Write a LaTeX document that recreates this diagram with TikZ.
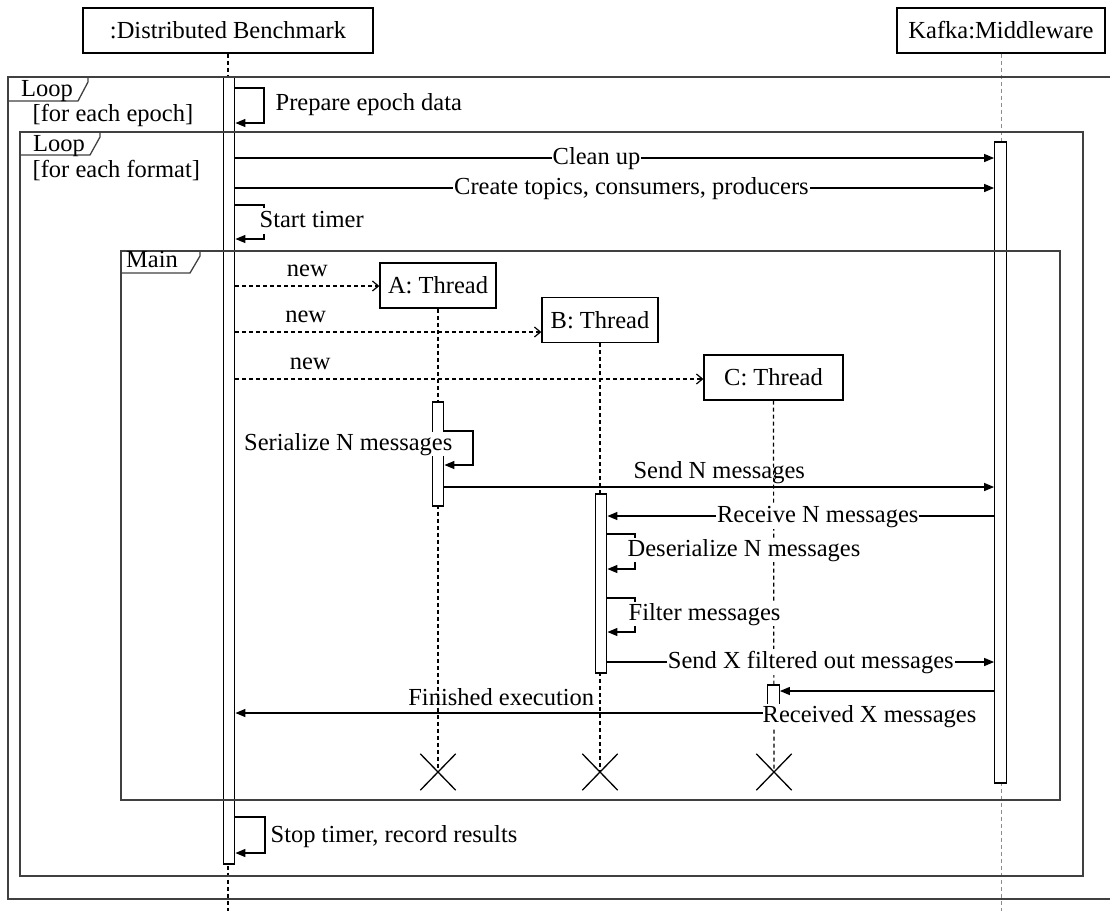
\documentclass[tikz,border=0pt]{standalone}
\usepackage{fontspec}
\setmainfont{Liberation Serif}
\usetikzlibrary{arrows.meta,shapes.misc}

\begin{document}
\begin{tikzpicture}[x=1pt,y=-1pt,font=\fontsize{24.5}{29}\selectfont,line width=1.3pt,
  obj/.style={draw,inner sep=0pt,minimum height=45pt},
  bar/.style={draw,fill=white,inner sep=0pt,minimum width=11.5pt},
  life/.style={dash pattern=on 4pt off 3pt,line width=1.2pt},
  frame/.style={draw=black!75},
  msg/.style={-{Triangle[length=10pt,width=8pt]}},
  newmsg/.style={dash pattern=on 4pt off 3pt,line width=1.2pt,-{Straight Barb[length=6pt,width=10pt]}},
  lbl/.style={fill=white,inner sep=1pt,text height=18pt,text depth=6pt},
  txt/.style={inner sep=0pt,text height=18pt,text depth=6pt},
  kill/.style={draw,cross out,minimum width=34pt,minimum height=35pt,inner sep=0pt}]
\useasboundingbox (0,0) rectangle (1110,911);

% objects and lifelines
\node[obj,minimum width=290pt] (db) at (228,30.5) {:Distributed Benchmark};
\node[obj,minimum width=208pt] (kafka) at (1001,30.5) {Kafka:Middleware};
\node[obj,minimum width=116pt] (ta) at (438,285.5) {A: Thread};
\node[obj,minimum width=116pt] (tb) at (600,320) {B: Thread};
\node[obj,minimum width=139pt] (tc) at (773.5,377.5) {C: Thread};
\node[kill] (xa) at (438,772) {};
\node[kill] (xb) at (600,772) {};
\node[kill] (xc) at (774,772) {};
\draw[life] (db.south) -- (db.south |- 0,911);
\draw[life,draw=black!45,line width=0.9pt] (kafka.south) -- (kafka.south |- 0,911);
\draw[life] (ta.south) -- (xa.center);
\draw[life] (tb.south) -- (xb.center);
\draw[life] (tc.south) -- (xc.center);

% activations
\node[bar,minimum height=787pt] (dbbar) at (229,470.5) {};
\node[bar,minimum height=641pt] (kbar) at (1000.5,462.5) {};
\node[bar,minimum height=104pt] (abar) at (438,454) {};
\node[bar,minimum height=179pt] (bbar) at (601,583.5) {};
\node[bar,minimum height=28pt] (cbar) at (773.5,699) {};

% combined fragments
\draw[frame] (1110,77) -- (8,77) -- (8,899) -- (1110,899);
\draw[frame] (8,101) -- (78,101) -- (88,82) -- (88,77);
\node[txt] (loopo) at (47,90) {Loop};
\node[txt,anchor=west] (guardo) at (32,115) {[for each epoch]};
\draw[frame] (20,132) rectangle (1083,876);
\draw[frame] (20,155) -- (90,155) -- (100,137) -- (100,132);
\node[txt] (loopi) at (59,145) {Loop};
\node[txt,anchor=west] (guardi) at (32,171) {[for each format]};
\draw[frame] (121,251) rectangle (1060,800);
\draw[frame] (121,273) -- (190,273) -- (200,256) -- (200,251);
\node[txt] (mainl) at (152,261) {Main};

% messages
\draw[msg] (dbbar.east |- 0,88) -| (264,123) -- (dbbar.east |- 0,123);
\node[txt,anchor=west] (prep) at (275,104) {Prepare epoch data};
\draw[msg] (dbbar.east |- 0,158) -- node[lbl,pos=0.476]{Clean up} (kbar.west |- 0,158);
\draw[msg] (dbbar.east |- 0,188) -- node[lbl,pos=0.522]{Create topics, consumers, producers} (kbar.west |- 0,188);
\draw[msg] (dbbar.east |- 0,205) -| (264,239) -- (dbbar.east |- 0,239);
\node[lbl,anchor=west] (start) at (258,221) {Start timer};

\draw[newmsg] (dbbar.east |- 0,286) -- node[txt,above=3pt]{new} (ta.west |- 0,286);
\draw[newmsg] (dbbar.east |- 0,332) -- node[txt,above=3pt,pos=0.23]{new} (tb.west |- 0,332);
\draw[newmsg] (dbbar.east |- 0,379) -- node[txt,above=3pt,pos=0.16]{new} (tc.west |- 0,379);

\draw[msg] (abar.east |- 0,431) -| (473,465) -- (abar.east |- 0,465);
\node[lbl,inner sep=0pt,anchor=east] (ser) at (453,444) {Serialize N messages};
\draw[msg] (abar.east |- 0,487) -- node[txt,above=2pt]{Send N messages} (kbar.west |- 0,487);
\draw[msg] (kbar.west |- 0,516) -- node[lbl,pos=0.456]{Receive N messages} (bbar.east |- 0,516);
\draw[msg] (bbar.east |- 0,534) -| (635,569) -- (bbar.east |- 0,569);
\node[lbl,inner sep=0pt,anchor=west] (deser) at (627,550) {Deserialize N messages};
\draw[msg] (bbar.east |- 0,598) -| (635,632) -- (bbar.east |- 0,632);
\node[lbl,inner sep=0pt,anchor=west] (filt) at (628,614) {Filter messages};
\draw[msg] (bbar.east |- 0,662) -- node[lbl,pos=0.526]{Send X filtered out messages} (kbar.west |- 0,662);
\draw[msg] (kbar.west |- 0,691) -- (cbar.east |- 0,691);
\draw[msg] (cbar.west |- 0,713) -- node[txt,above=1pt]{Finished execution} (dbbar.east |- 0,713);
\node[lbl,inner sep=0pt,anchor=west] (rcvx) at (762,716) {Received X messages};
\draw[msg] (dbbar.east |- 0,817) -| (265,853) -- (dbbar.east |- 0,853);
\node[txt,anchor=west] (stop) at (270,836) {Stop timer, record results};
\end{tikzpicture}
\end{document}
